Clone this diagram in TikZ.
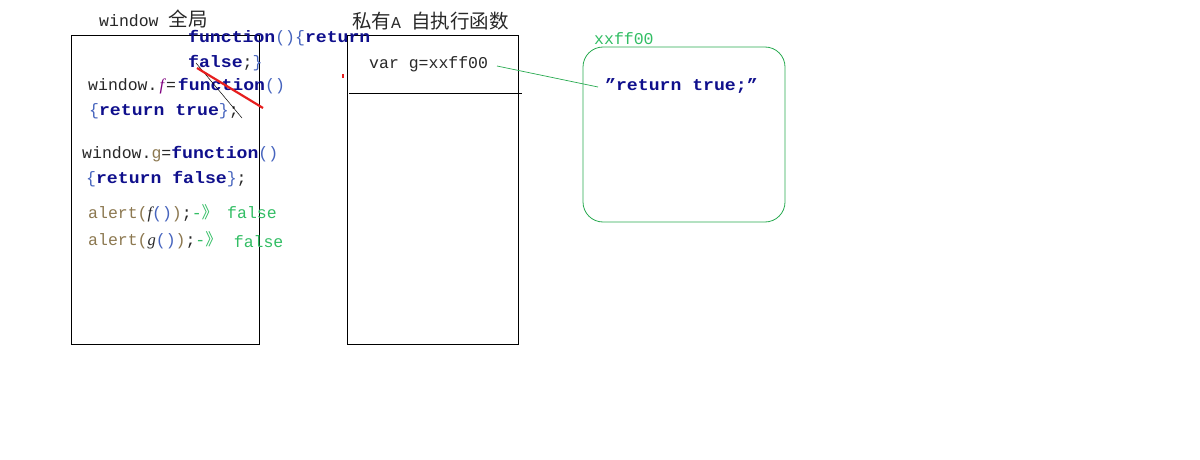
\documentclass[tikz,border=0pt]{standalone}
\usepackage{fontspec}
\setmainfont{Liberation Mono}
\newfontfamily\cjk{Noto Sans CJK SC}
\newfontfamily\cb{Liberation Mono}[FakeStretch=1.1]
\newfontfamily\ser{Liberation Serif}
\definecolor{navy}{RGB}{15,15,140}
\definecolor{brk}{RGB}{70,100,190}
\definecolor{dk}{RGB}{40,40,40}
\definecolor{purp}{RGB}{128,0,128}
\definecolor{olv}{RGB}{140,120,80}
\definecolor{grn}{RGB}{50,190,100}
\definecolor{gline}{RGB}{40,170,80}
\definecolor{redl}{RGB}{230,30,30}
\newcommand\kw[1]{{\cb\bfseries\color{navy}#1}}
\newcommand\br[1]{\textcolor{brk}{#1}}
\newcommand\dk[1]{\textcolor{dk}{#1}}
\newcommand\zh[1]{{\cjk\fontsize{19.5}{22}\selectfont #1}}
\begin{document}
\begin{tikzpicture}[x=1pt,y=-1pt,
  txt/.style={anchor=base west,inner sep=0pt,font=\fontsize{16.5}{19}\selectfont},
  box/.style={draw=black,line width=0.8pt}]
\useasboundingbox (0,0) rectangle (1200,460);
\fill[white] (0,0) rectangle (1200,460);
% boxes
\draw[box] (71,35) rectangle (259,344);
\draw[box] (347,35) rectangle (518,344);
\draw[box] (349,93) -- (522,93);
\draw[gline,line width=0.8pt,rounded corners=20pt] (583,47) rectangle (785,222);
% titles
\node[txt] (wt) at (99,27) {\dk{window \zh{全局}}};
\node[txt] (pt) at (352,29) {\dk{\zh{私有}A \zh{自执行函数}}};
% left box text
\node[txt] (fn1) at (188,43) {\kw{function}\br{()\{}\kw{return}};
\node[txt] (fn2) at (188,68) {\kw{false}\dk{;}\br{\}}};
\node[txt] (wf1) at (88,90) {\dk{window.}\hspace{2pt}{\ser\itshape\textcolor{purp}{f}}\hspace{2pt}\dk{=}\hspace{2pt}\kw{function}\br{()}};
\node[txt] (wf2) at (89,115) {\br{\{}\kw{return true}\br{\}}\dk{;}};
\node[txt] (wg1) at (82,158) {\dk{window.}\textcolor{olv}{g}\dk{=}\kw{function}\br{()}};
\node[txt] (wg2) at (86,183) {\br{\{}\kw{return false}\br{\}}\dk{;}};
\node[txt] (a1) at (88,218) {\textcolor{olv}{alert(}{\ser\itshape\dk{f}}\br{()}\textcolor{olv}{)}\dk{;}\textcolor{grn}{-{\cjk 》}\hspace{9pt}false}};
\node[txt] (a2) at (88,245) {\textcolor{olv}{alert(}{\ser\itshape\dk{g}}\br{()}\textcolor{olv}{)}\dk{;}\textcolor{grn}{-{\cjk 》}\hspace{12pt}\raisebox{-2pt}{false}}};
% middle box text
\node[txt] (vg) at (369,69) {\dk{var g=xxff00}};
% heap object
\node[txt] (hx) at (594,45) {\textcolor{grn}{xxff00}};
\node[txt] (rt) at (605,90) {\kw{”return true;”}};
% strokes
\draw[black,line width=0.5pt] (196,63) -- (242,118);
\draw[redl,line width=2.2pt] (197,68) -- (263,108);
\fill[redl] (342,74) rectangle (344,78);
% pointer
\coordinate (ps) at (497,66);
\coordinate (pe) at (598,87);
\draw[gline,line width=0.7pt] (ps) -- (pe);
\end{tikzpicture}
\end{document}
